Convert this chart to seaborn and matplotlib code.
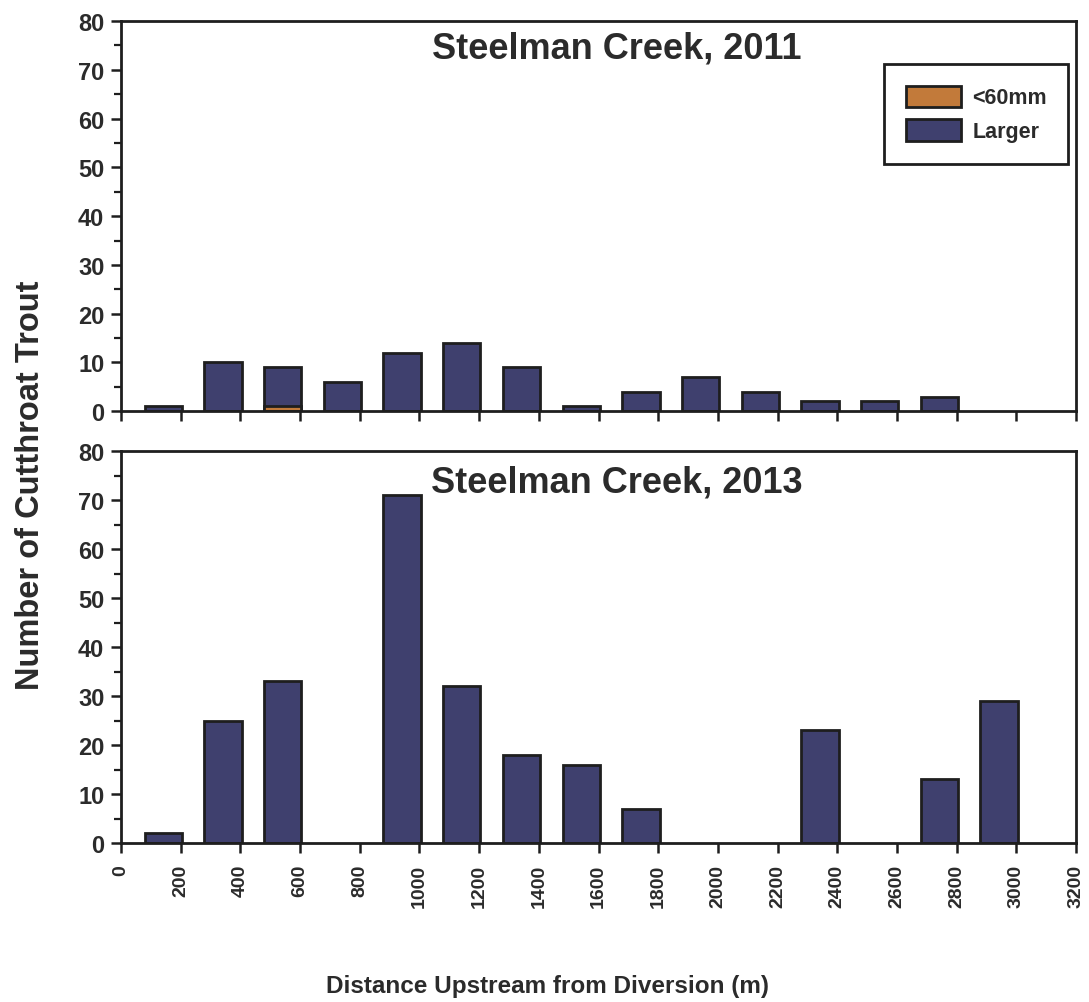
import numpy as np
import pandas as pd
import matplotlib
matplotlib.use("Agg")
import matplotlib.pyplot as plt
import seaborn as sns
from matplotlib.patches import Patch
from matplotlib.ticker import MultipleLocator

# Distance bins (start of each 200 m reach, upstream from the diversion)
bin_start = [0, 200, 400, 600, 800, 1000, 1200, 1400, 1600, 1800, 2000, 2200, 2400, 2600, 2800]

# Cutthroat trout counts per reach
small_2011 = [0, 0, 1, 0, 0, 0, 0, 0, 0, 0, 0, 0, 0, 0, 0]
larger_2011 = [1, 10, 8, 6, 12, 14, 9, 1, 4, 7, 4, 2, 2, 3, 0]
small_2013 = [0, 0, 0, 0, 0, 0, 0, 0, 0, 0, 0, 0, 0, 0, 0]
larger_2013 = [2, 25, 33, 0, 71, 32, 18, 16, 7, 0, 0, 23, 0, 13, 29]

size_labels = ["<60mm", "Larger"]
panel_titles = ["Steelman Creek, 2011", "Steelman Creek, 2013"]
x_ticks = list(range(0, 3201, 200))

COL_SMALL = "#c27a3a"
COL_LARGE = "#3f406e"
EDGE = "#1e1e1e"
TXT = "#2b2b2b"

sns.set_theme(style="white")
plt.rcParams["font.family"] = ["Liberation Sans", "DejaVu Sans"]
plt.rcParams["font.weight"] = "bold"


def build_frame(small, larger):
    rows = []
    for b, s, l in zip(bin_start, small, larger):
        pos = b + 142
        total = s + l
        if total > 0:
            rows.append({"pos": pos, "count": total, "size": "Larger"})
        if s > 0:
            rows.append({"pos": pos, "count": s, "size": "<60mm"})
    return pd.DataFrame(rows)


fig = plt.figure(figsize=(10.89, 10.03), dpi=100)
ax_top = fig.add_axes([0.1111, 0.589, 0.877, 0.389])
ax_bot = fig.add_axes([0.1111, 0.1585, 0.877, 0.3905])

panels = [(ax_top, small_2011, larger_2011), (ax_bot, small_2013, larger_2013)]
for i, (ax, small, larger) in enumerate(panels):
    df = build_frame(small, larger)
    sns.barplot(
        data=df, x="pos", y="count", hue="size",
        hue_order=["Larger", "<60mm"],
        palette={"Larger": COL_LARGE, "<60mm": COL_SMALL},
        native_scale=True, dodge=False, width=0.625,
        edgecolor=EDGE, linewidth=2.0, saturation=1,
        errorbar=None, legend=False, ax=ax,
    )
    ax.set_xlim(0, 3200)
    ax.set_ylim(0, 80)
    ax.set_xticks(x_ticks)
    ax.yaxis.set_major_locator(MultipleLocator(10))
    ax.yaxis.set_minor_locator(MultipleLocator(5))
    ax.set_xlabel("")
    ax.set_ylabel("")
    for sp in ax.spines.values():
        sp.set_visible(True)
        sp.set_color(EDGE)
        sp.set_linewidth(2.0)
    ax.tick_params(axis="both", which="major", direction="out", length=7,
                   width=1.8, color=EDGE, left=True, bottom=True)
    ax.tick_params(axis="y", which="minor", direction="out", length=5,
                   width=1.6, color=EDGE, left=True)
    ax.tick_params(axis="y", labelsize=17, labelcolor=TXT, pad=5)
    for lab in ax.get_yticklabels():
        lab.set_fontweight("bold")
    ax.text(0.519, 0.93 if i == 0 else 0.922, panel_titles[i], transform=ax.transAxes,
            ha="center", va="center", fontsize=26, fontweight="bold", color=TXT)

ax_top.tick_params(axis="x", labelbottom=False)
ax_bot.set_xticklabels([str(t) for t in x_ticks], rotation=90, fontsize=14,
                       fontweight="bold", color=TXT)
ax_bot.tick_params(axis="x", pad=8)

handles = [Patch(facecolor=COL_SMALL, edgecolor=EDGE, linewidth=2.0, label=size_labels[0]),
           Patch(facecolor=COL_LARGE, edgecolor=EDGE, linewidth=2.0, label=size_labels[1])]
leg = ax_top.legend(handles=handles, loc="upper right", bbox_to_anchor=(0.992, 0.89),
                    borderaxespad=0, fancybox=False, framealpha=1, edgecolor=EDGE,
                    prop={"weight": "bold", "size": 15.5}, handlelength=2.6,
                    handleheight=1.15, borderpad=1.0, labelspacing=0.5, handletextpad=0.5)
leg.get_frame().set_linewidth(2.0)
for t in leg.get_texts():
    t.set_color(TXT)

fig.text(0.028, 0.516, "Number of Cutthroat Trout", rotation=90, ha="center", va="center",
         fontsize=23.5, fontweight="bold", color=TXT)
fig.text(0.503, 0.016, "Distance Upstream from Diversion (m)", ha="center", va="center",
         fontsize=17.5, fontweight="bold", color=TXT)

fig.savefig("out.png", dpi=100, facecolor="white")
